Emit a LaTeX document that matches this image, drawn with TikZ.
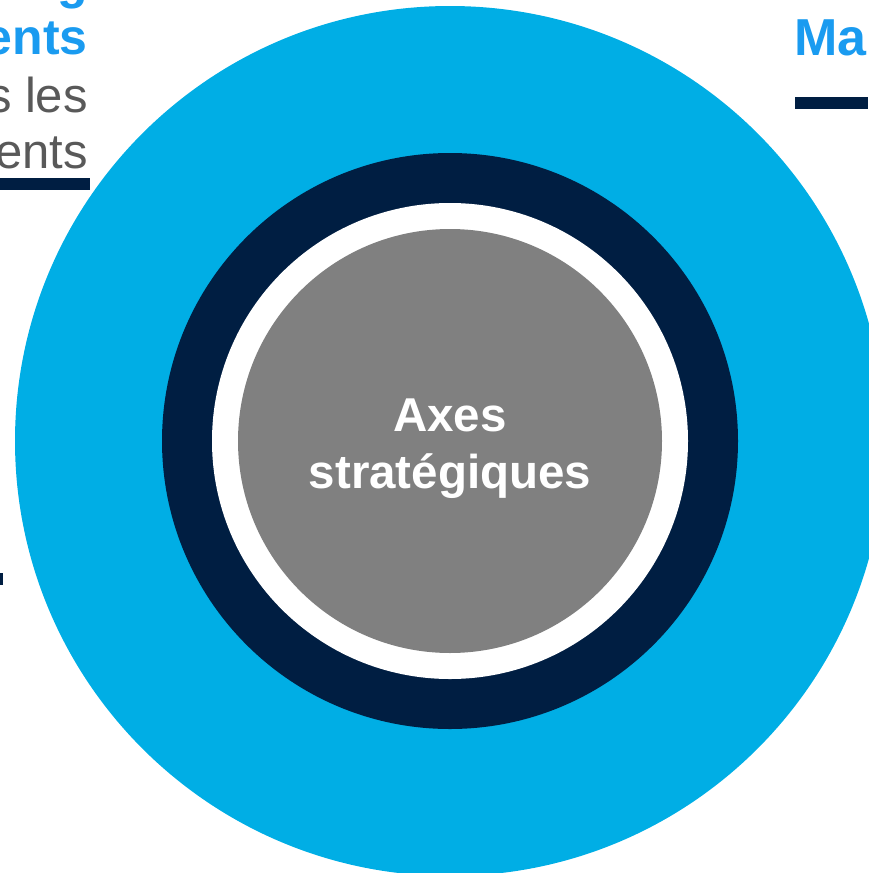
\documentclass[tikz,border=0pt]{standalone}
\usepackage{fontspec}
\setmainfont{Liberation Sans}
\usepackage{xcolor}
\definecolor{skyring}{RGB}{0,174,229}
\definecolor{navy}{RGB}{0,30,66}
\definecolor{titleblue}{RGB}{26,155,240}
\definecolor{coregray}{RGB}{128,128,128}
\definecolor{textgray}{RGB}{89,89,89}

\begin{document}
\begin{tikzpicture}[x=1pt, y=-1pt,
    title/.style={inner sep=0pt, text=titleblue, font=\fontsize{50}{56}\selectfont\bfseries},
    body/.style={inner sep=0pt, text=textgray, font=\fontsize{49}{56}\selectfont},
    core/.style={inner sep=0pt, text=white, align=center, font=\fontsize{47.5}{57}\selectfont\bfseries}]
    \useasboundingbox (0, 0) rectangle (868, 873);
    % rings
    \fill[skyring] (450, 441) circle[radius=435];
    \fill[navy] (450, 441) circle[radius=288];
    \fill[white] (450, 441) circle[radius=238];
    \fill[coregray] (450, 441) circle[radius=212];
    \node[core] (axes) at (450, 449) {Axes\\strat\'egiques};
    % cut-off texts
    \node[title, anchor=base east] (lt0) at (88, -2) {g};
    \node[title, anchor=base east] (lt1) at (88, 54) {ents};
    \node[body, anchor=base east] (lb1) at (88, 112) {s les};
    \node[body, anchor=base east] (lb2) at (88, 168) {ents};
    \node[title, anchor=base west, font=\fontsize{52}{56}\selectfont\bfseries] (rt) at (794, 55) {Ma};
    % bars
    \fill[navy] (0, 178) rectangle (90, 190);
    \fill[navy] (795, 97) rectangle (868, 109);
    \fill[navy] (0, 573) rectangle (3, 585);
\end{tikzpicture}
\end{document}
